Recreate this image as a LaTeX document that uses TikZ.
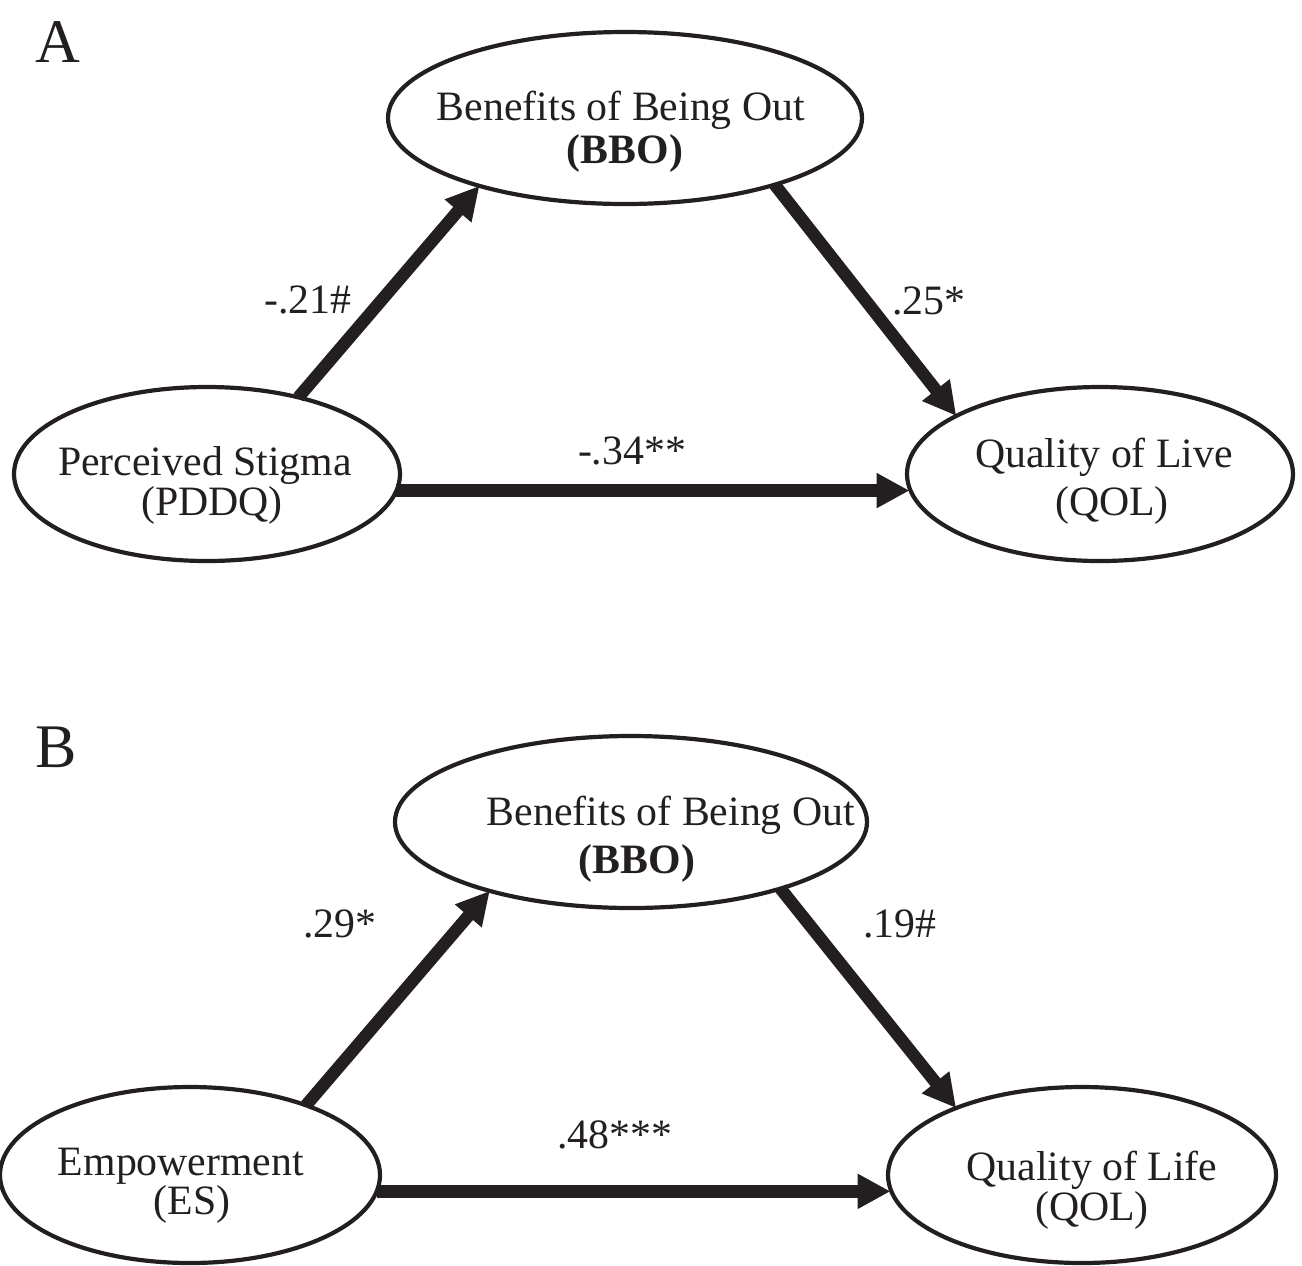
\documentclass[tikz,border=0pt]{standalone}
\usepackage{fontspec}
\setmainfont{Liberation Serif}
\usetikzlibrary{arrows.meta,shapes.geometric,calc}
\definecolor{ink}{RGB}{35,31,32}
\begin{document}
\begin{tikzpicture}[x=0.5pt,y=-0.5pt, color=ink,
  ell/.style={draw=ink, ellipse, line width=2.1pt, inner sep=0pt, outer sep=0pt},
  txt/.style={anchor=base, inner sep=0pt, text=ink, font=\fontsize{20.9}{25}\selectfont},
  big/.style={anchor=base west, inner sep=0pt, text=ink, font=\fontsize{31}{36}\selectfont},
  arr/.style={draw=ink, line width=6.2pt, -{Triangle[length=16.5pt,width=16.5pt]}}]
\useasboundingbox (0,0) rectangle (1302,1265);

% ---------- Panel A ----------
\node[big] (labA) at (35,62) {A};
\node[ell, minimum width=237pt, minimum height=86pt] (bboa) at (625,118) {};
\node[ell, minimum width=193pt, minimum height=87pt] (pddq) at (207,474) {};
\node[ell, minimum width=193pt, minimum height=87pt] (qola) at (1100,474) {};

\node[txt] (bboa1) at (621,120) {Benefits of Being Out};
\node[txt] (bboa2) at (625,163) {\textbf{(BBO)}};
\node[txt] (pddq1) at (205,475) {Perceived Stigma};
\node[txt] (pddq2) at (212,515) {(PDDQ)};
\node[txt] (qola1) at (1104,467) {Quality of Live};
\node[txt] (qola2) at (1112,515) {(QOL)};

\draw[arr] (pddq.40.5) -- (bboa.205);
\draw[arr] (bboa.336) -- (qola.158);
\draw[arr] (pddq.355.8) -- ($(pddq.355.8 -| qola.west)+(2.5,0)$);

\node[txt] (ca1) at (308,313) {-.21\#};
\node[txt] (ca2) at (929,314) {.25*};
\node[txt] (ca3) at (632,464) {-.34**};

% ---------- Panel B ----------
\node[big] (labB) at (35,767) {B};
\node[ell, minimum width=236pt, minimum height=86pt] (bbob) at (631,822) {};
\node[ell, minimum width=190pt, minimum height=88pt] (es) at (190,1175) {};
\node[ell, minimum width=194pt, minimum height=88pt] (qolb) at (1082,1175) {};

\node[txt] (bbob1) at (671,825) {Benefits of Being Out};
\node[txt] (bbob2) at (637,873) {\textbf{(BBO)}};
\node[txt] (es1) at (181,1175) {Empowerment};
\node[txt] (es2) at (192,1214) {(ES)};
\node[txt] (qolb1) at (1092,1180) {Quality of Life};
\node[txt] (qolb2) at (1092,1220) {(QOL)};

\draw[arr] (es.31) -- (bbob.206.2);
\draw[arr] (bbob.336.2) -- (qolb.152);
\draw[arr] (es.355.7) -- ($(es.355.7 -| qolb.west)+(2.5,0)$);

\node[txt] (cb1) at (340,937) {.29*};
\node[txt] (cb2) at (900,937) {.19\#};
\node[txt] (cb3) at (615,1148) {.48***};
\end{tikzpicture}
\end{document}
